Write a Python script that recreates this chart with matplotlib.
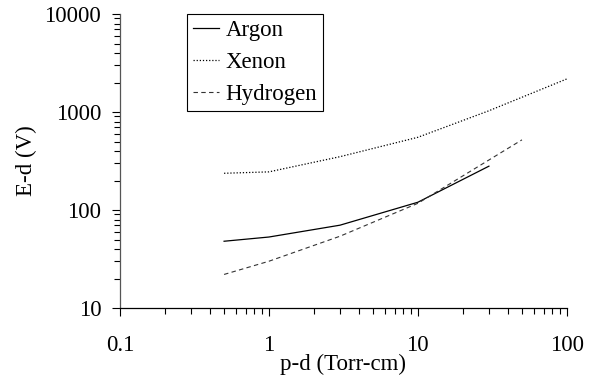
import numpy as np
import matplotlib
matplotlib.use('Agg')
import matplotlib.pyplot as plt
from matplotlib.ticker import FixedLocator, LogLocator, NullFormatter

plt.rcParams['font.family'] = ['Liberation Serif', 'DejaVu Serif']
plt.rcParams['font.size'] = 16.5

# values (pd in Torr-cm, Ed in V)
argon_pd = [0.5, 1, 3, 10, 30]
argon_ed = [48, 53, 70, 120, 280]

xenon_pd = [0.5, 1, 3, 10, 30, 100]
xenon_ed = [237, 245, 350, 552, 1030, 2175]

hydrogen_pd = [0.5, 1, 3, 10, 50]
hydrogen_ed = [22, 30, 54, 117, 520]

x_ticks = [0.1, 1, 10, 100]
x_labels = ['0.1', '1', '10', '100']
y_ticks = [10, 100, 1000, 10000]
y_labels = ['10', '100', '1000', '10000']

fig = plt.figure(figsize=(5.96, 3.85), dpi=100)
ax = fig.add_axes([0.2013, 0.2, 0.7497, 0.7636])

ax.plot(argon_pd, argon_ed, color='black', lw=0.9, ls='-', label='Argon')
ax.plot(xenon_pd, xenon_ed, color='black', lw=0.9, ls=(0, (1, 1.5)), label='Xenon')
ax.plot(hydrogen_pd, hydrogen_ed, color='#333333', lw=0.8, ls=(0, (4, 3)), label='Hydrogen')

ax.set_xscale('log')
ax.set_yscale('log')
ax.set_xlim(0.1, 100)
ax.set_ylim(10, 10000)

ax.xaxis.set_major_locator(FixedLocator(x_ticks))
ax.set_xticklabels(x_labels)
ax.yaxis.set_major_locator(FixedLocator(y_ticks))
ax.set_yticklabels(y_labels)
ax.xaxis.set_minor_locator(LogLocator(base=10, subs=np.arange(2, 10)))
ax.yaxis.set_minor_locator(LogLocator(base=10, subs=np.arange(2, 10)))
ax.xaxis.set_minor_formatter(NullFormatter())
ax.yaxis.set_minor_formatter(NullFormatter())

ax.tick_params(axis='x', which='major', direction='out', length=5.8, width=0.8, pad=13.5)
ax.tick_params(axis='x', which='minor', direction='out', length=4.2, width=0.8)
ax.tick_params(axis='y', which='major', direction='out', length=5.5, width=0.8, pad=8)
ax.tick_params(axis='y', which='minor', direction='out', length=4.5, width=0.8)

for s in ['top', 'right']:
    ax.spines[s].set_visible(False)
ax.spines['bottom'].set_linewidth(0.9)
ax.spines['left'].set_linewidth(0.9)
ax.spines['left'].set_color('#555555')

ax.set_xlabel('p-d (Torr-cm)')
ax.set_ylabel('E-d (V)')
ax.xaxis.set_label_coords(0.5, -0.156)
ax.yaxis.set_label_coords(-0.186, 0.5)

leg = ax.legend(loc='upper left', bbox_to_anchor=(0.149, 1.0), borderaxespad=0,
                fancybox=False, edgecolor='black', framealpha=1,
                handlelength=1.15, handletextpad=0.3, labelspacing=0.47,
                borderpad=0.26)
leg.get_frame().set_linewidth(0.8)

fig.savefig('out.png', dpi=100)
